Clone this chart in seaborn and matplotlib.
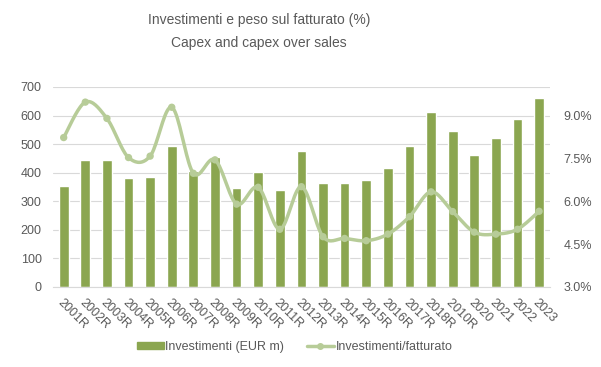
import numpy as np
import pandas as pd
import matplotlib
matplotlib.use("Agg")
import matplotlib.pyplot as plt
import seaborn as sns
from matplotlib.ticker import FuncFormatter
from matplotlib.patches import Patch
from matplotlib.lines import Line2D

years = ["2001R", "2002R", "2003R", "2004R", "2005R", "2006R", "2007R", "2008R",
         "2009R", "2010R", "2011R", "2012R", "2013R", "2014R", "2015R", "2016R",
         "2017R", "2018R", "2010R ", "2020", "2021", "2022", "2023"]
capex = [355, 445, 445, 382, 385, 495, 405, 455, 347, 403, 340, 476,
         364, 364, 375, 416, 494, 613, 546, 462, 522, 588, 662]
ratio = [8.23, 9.47, 8.90, 7.53, 7.58, 9.29, 6.98, 7.45, 5.90, 6.49, 5.02, 6.51,
         4.76, 4.70, 4.62, 4.85, 5.46, 6.33, 5.64, 4.92, 4.85, 5.02, 5.65]

bar_col = "#8BA650"
line_col = "#B7CC98"
txt_col = "#595959"

sns.set_style("white")
plt.rcParams["font.family"] = ["Liberation Sans", "DejaVu Sans"]

df = pd.DataFrame({"year": years, "capex": capex, "ratio": ratio})

fig = plt.figure(figsize=(6.01, 3.67), dpi=100)
ax = fig.add_axes([0.088, 0.218, 0.827, 0.545])

sns.barplot(data=df, x="year", y="capex", color=bar_col, width=0.45,
            saturation=1, ax=ax, zorder=2)
ax.set_ylim(0, 700)
ax.set_xlim(-0.5, len(years) - 0.5)
ax.set_yticks(range(0, 701, 100))
ax.grid(axis="y", color="#D9D9D9", lw=0.8, zorder=0)
ax.set_axisbelow(True)
for s in ["top", "left", "right"]:
    ax.spines[s].set_visible(False)
ax.spines["bottom"].set_color("#D9D9D9")
ax.set_xlabel("")
ax.set_ylabel("")
ax.tick_params(axis="both", length=0, colors=txt_col, labelsize=9)
ax.tick_params(axis="y", pad=8)
ax.set_xticks(range(len(years)))
ax.set_xticklabels(years, rotation=-45, ha="left", rotation_mode="anchor")
for t in ax.get_xticklabels():
    t.set_y(-0.025)

# smoothed line, like Excel (Catmull-Rom through the points)
ax2 = ax.twinx()
x = np.arange(len(ratio), dtype=float)
y = np.array(ratio)
px = np.concatenate([[x[0]], x, [x[-1]]])
py = np.concatenate([[y[0]], y, [y[-1]]])
sx, sy = [], []
t = np.linspace(0, 1, 20)
for i in range(1, len(px) - 2):
    p0, p1, p2, p3 = py[i - 1], py[i], py[i + 1], py[i + 2]
    q0, q1, q2, q3 = px[i - 1], px[i], px[i + 1], px[i + 2]
    sy.extend(0.5 * (2 * p1 + (-p0 + p2) * t + (2 * p0 - 5 * p1 + 4 * p2 - p3) * t ** 2
                     + (-p0 + 3 * p1 - 3 * p2 + p3) * t ** 3))
    sx.extend(0.5 * (2 * q1 + (-q0 + q2) * t + (2 * q0 - 5 * q1 + 4 * q2 - q3) * t ** 2
                     + (-q0 + 3 * q1 - 3 * q2 + q3) * t ** 3))
sns.lineplot(x=sx, y=sy, color=line_col, lw=2.5, ax=ax2, sort=False, zorder=3)
sns.scatterplot(x=x, y=y, color=line_col, s=28, edgecolor="none", ax=ax2, zorder=4)
ax2.set_ylim(3, 10)
ax2.set_yticks([3, 4.5, 6, 7.5, 9])
ax2.yaxis.set_major_formatter(FuncFormatter(lambda v, p: f"{v:.1f}%"))
ax2.tick_params(axis="y", length=0, colors=txt_col, labelsize=9, pad=10)
for s in ["top", "left", "right", "bottom"]:
    ax2.spines[s].set_visible(False)
ax2.set_ylabel("")

fig.text(0.431, 0.945, "Investimenti e peso sul fatturato (%)", ha="center",
         va="center", fontsize=10, color=txt_col)
fig.text(0.431, 0.882, "Capex and capex over sales", ha="center",
         va="center", fontsize=10, color=txt_col)

handles = [Patch(color=bar_col, label="Investimenti (EUR m)"),
           Line2D([0], [0], color=line_col, lw=2.5, marker="o", markersize=4,
                  label="Investimenti/fatturato")]
fig.legend(handles=handles, loc="center", bbox_to_anchor=(0.49, 0.055), ncol=2,
           frameon=False, fontsize=9, labelcolor=txt_col, handlelength=2.2,
           handletextpad=0.1, columnspacing=1.8, handleheight=0.55)

fig.savefig("out.png", dpi=100)
